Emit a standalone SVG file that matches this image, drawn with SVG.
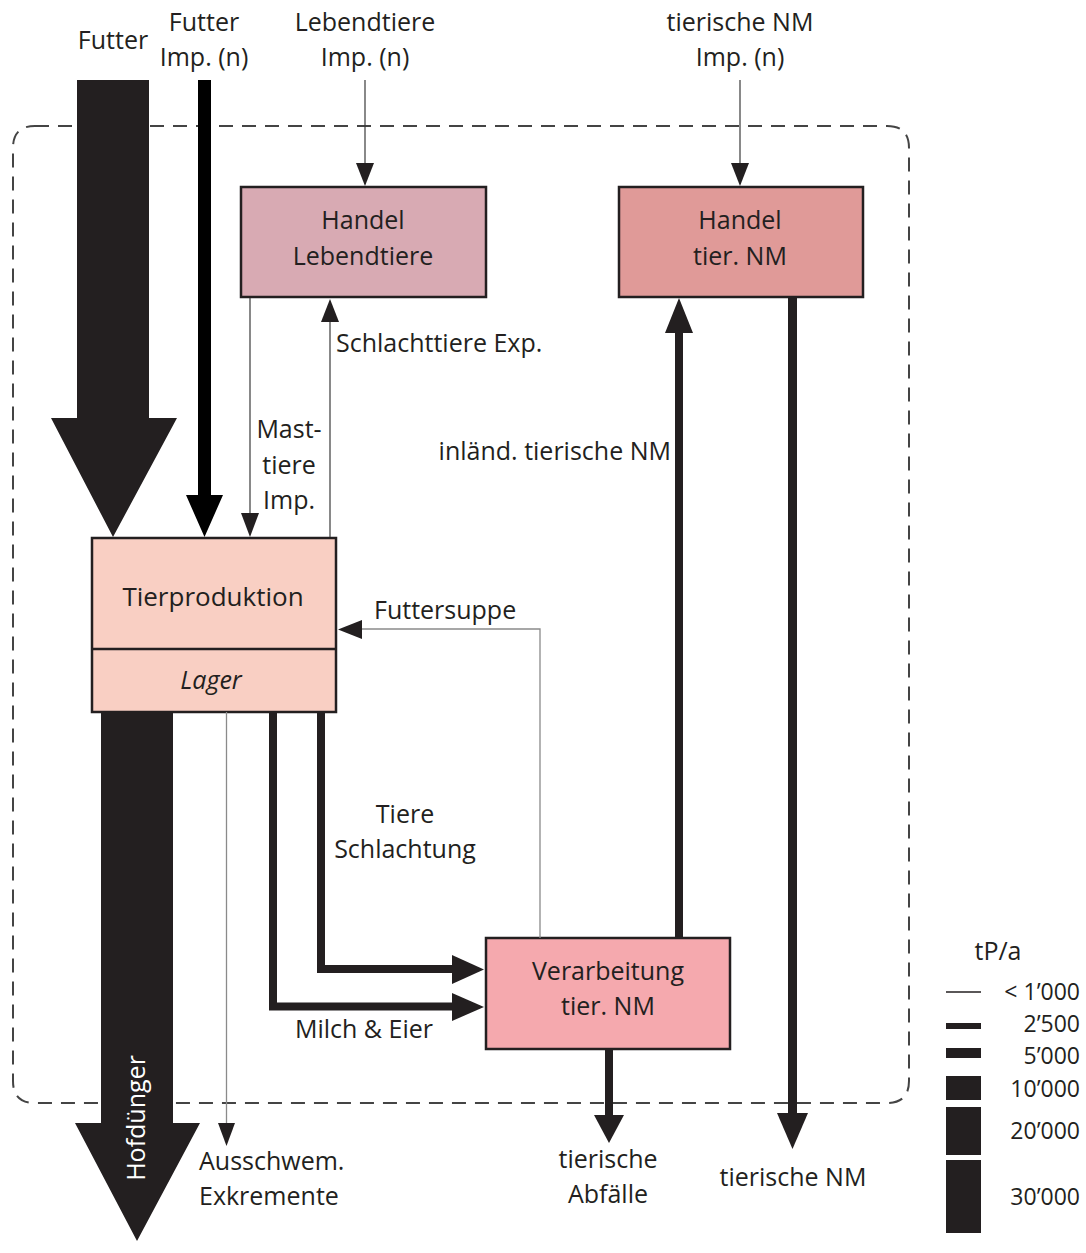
<svg xmlns="http://www.w3.org/2000/svg" width="1086" height="1253" viewBox="0 0 1086 1253">
  <style>
    text { font-family: "Open Sans", "Noto Sans", "DejaVu Sans", sans-serif; font-size: 25px; fill: #231f20; }
    .c { text-anchor: middle; }
    .e { text-anchor: end; }
    .lg { font-size: 23px; }
    .box { stroke: #231f20; stroke-width: 2.5; }
    .ink { fill: #231f20; }
    .thin { stroke: #3a3a3a; stroke-width: 1.2; fill: none; }
    .grey { stroke: #8a8a8a; stroke-width: 1.3; fill: none; }
    .wide { stroke: #231f20; stroke-width: 8; fill: none; stroke-linejoin: miter; }
  </style>

  <rect width="1086" height="1253" fill="#ffffff"/>

  <!-- system boundary -->
  <path id="boundary" d="M35,126 H887 Q909,126 909,148 V1081 Q909,1103 887,1103 H35 Q13,1103 13,1081 V148 Q13,126 35,126 Z"
        fill="none" stroke="#444" stroke-width="2" stroke-dasharray="14 9"/>

  <!-- processes -->
  <g id="handel-lebendtiere">
    <rect class="box" x="241" y="187" width="245" height="110" fill="#d8aab3"/>
    <text class="c" x="363" y="229">Handel</text>
    <text class="c" x="363" y="265">Lebendtiere</text>
  </g>
  <g id="handel-tier-nm">
    <rect class="box" x="619" y="187" width="244" height="110" fill="#e09a98"/>
    <text class="c" x="740" y="229">Handel</text>
    <text class="c" x="740" y="265">tier. NM</text>
  </g>
  <g id="tierproduktion">
    <rect class="box" x="92" y="538" width="244" height="174" fill="#f9cfc3"/>
    <line class="box" x1="92" y1="649" x2="336" y2="649"/>
    <text class="c" x="213" y="606" style="font-size:26px">Tierproduktion</text>
    <text class="c" x="211" y="689" font-style="italic">Lager</text>
  </g>
  <g id="verarbeitung">
    <rect class="box" x="486" y="938" width="244" height="111" fill="#f5a9ae"/>
    <text class="c" x="608" y="980">Verarbeitung</text>
    <text class="c" x="608" y="1015">tier. NM</text>
  </g>

  <!-- flows -->
  <g id="connectors">
    <!-- Futter -->
    <polygon class="ink" points="77,80 149,80 149,418 177,418 113,537 51,418 77,418"/>
    <!-- Futter Imp. (n) -->
    <polygon fill="#000" points="198,80 211,80 211,495 223,495 204.5,537 186,495 198,495"/>
    <!-- Lebendtiere Imp. (n) -->
    <line class="thin" x1="365" y1="80" x2="365" y2="165"/>
    <polygon class="ink" points="356,163 374,163 365,186"/>
    <!-- tierische NM Imp. (n) -->
    <line class="thin" x1="740" y1="80" x2="740" y2="165"/>
    <polygon class="ink" points="731,163 749,163 740,186"/>
    <!-- Masttiere Imp. -->
    <line class="thin" x1="250" y1="298" x2="250" y2="515"/>
    <polygon class="ink" points="241,513 259,513 250,537"/>
    <!-- Schlachttiere Exp. -->
    <line class="thin" x1="330" y1="537" x2="330" y2="320"/>
    <polygon class="ink" points="321,322 339,322 330,299"/>
    <!-- inländ. tierische NM -->
    <line class="wide" x1="679" y1="938" x2="679" y2="330"/>
    <polygon class="ink" points="665,333 693,333 679,298"/>
    <!-- tierische NM export -->
    <rect class="ink" x="788" y="297" width="9" height="818"/>
    <polygon class="ink" points="777,1113 808,1113 792.5,1149"/>
    <!-- tierische Abfälle -->
    <rect class="ink" x="605" y="1049" width="8" height="68"/>
    <polygon class="ink" points="594,1115 624,1115 609,1143"/>
    <!-- Futtersuppe -->
    <polyline class="grey" points="540,938 540,629 360,629"/>
    <polygon class="ink" points="362,620 362,639 338,629.5"/>
    <!-- Tiere Schlachtung -->
    <polyline class="wide" points="321,712 321,969 455,969"/>
    <polygon class="ink" points="452,955 452,984 484,969.5"/>
    <!-- Milch & Eier -->
    <polyline class="wide" points="273,712 273,1006.5 455,1006.5"/>
    <polygon class="ink" points="452,993 452,1021 484,1007"/>
    <!-- Ausschwemmung Exkremente -->
    <line class="grey" x1="226.5" y1="712" x2="226.5" y2="1125"/>
    <polygon class="ink" points="218,1123 235,1123 226.5,1146"/>
    <!-- Hofdünger -->
    <polygon class="ink" points="101,712 173,712 173,1123 200,1123 137,1241 75,1123 101,1123"/>
    <text class="c" x="0" y="0" transform="translate(145,1118) rotate(-90)" style="fill:#ffffff">Hofdünger</text>
  </g>

  <!-- flow labels -->
  <g id="labels">
    <text class="c" x="113" y="49">Futter</text>
    <text class="c" x="204" y="31">Futter</text>
    <text class="c" x="204" y="66">Imp. (n)</text>
    <text class="c" x="365" y="31">Lebendtiere</text>
    <text class="c" x="365" y="66">Imp. (n)</text>
    <text class="c" x="740" y="31">tierische NM</text>
    <text class="c" x="740" y="66">Imp. (n)</text>
    <text x="336" y="352">Schlachttiere Exp.</text>
    <text class="c" x="289" y="438">Mast-</text>
    <text class="c" x="289" y="474">tiere</text>
    <text class="c" x="289" y="509">Imp.</text>
    <text class="e" x="671" y="460">inländ. tierische NM</text>
    <text x="374" y="619">Futtersuppe</text>
    <text class="c" x="405" y="823">Tiere</text>
    <text class="c" x="405" y="858">Schlachtung</text>
    <text class="c" x="364" y="1038">Milch &amp; Eier</text>
    <text x="199" y="1170">Ausschwem.</text>
    <text x="199" y="1205">Exkremente</text>
    <text class="c" x="608" y="1168">tierische</text>
    <text class="c" x="608" y="1203">Abfälle</text>
    <text class="c" x="793" y="1186">tierische NM</text>
  </g>

  <!-- legend -->
  <g id="legend">
    <text class="c" x="998" y="960">tP/a</text>
    <line x1="946" y1="992" x2="981" y2="992" stroke="#231f20" stroke-width="1.5"/>
    <rect class="ink" x="946" y="1023" width="35" height="6"/>
    <rect class="ink" x="946" y="1048" width="35" height="10"/>
    <rect class="ink" x="946" y="1076" width="35" height="24"/>
    <rect class="ink" x="946" y="1107" width="35" height="48"/>
    <rect class="ink" x="946" y="1160" width="35" height="73"/>
    <text class="e lg" x="1080" y="1000">&lt; 1’000</text>
    <text class="e lg" x="1080" y="1032">2’500</text>
    <text class="e lg" x="1080" y="1064">5’000</text>
    <text class="e lg" x="1080" y="1097">10’000</text>
    <text class="e lg" x="1080" y="1139">20’000</text>
    <text class="e lg" x="1080" y="1205">30’000</text>
  </g>
</svg>
